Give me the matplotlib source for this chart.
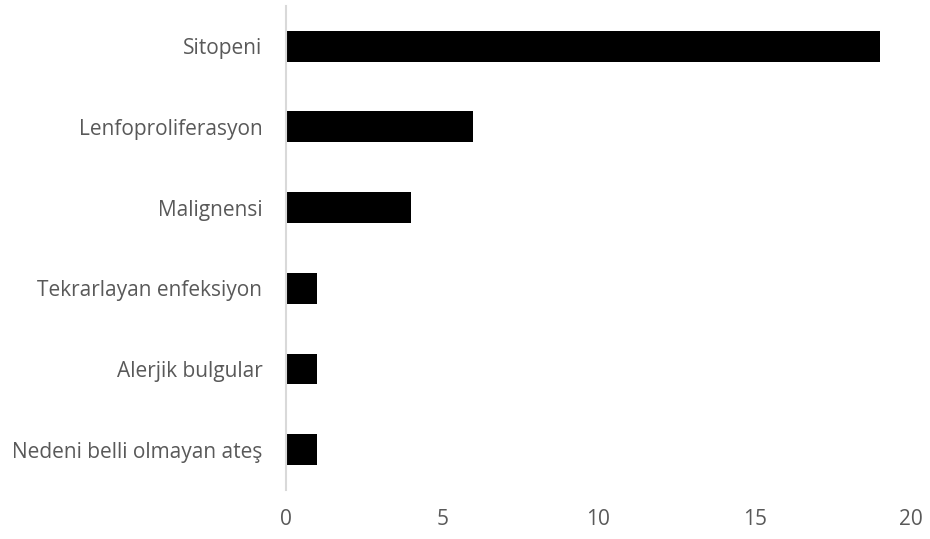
import matplotlib.pyplot as plt

plt.rcParams['font.family'] = ['Open Sans', 'DejaVu Sans']

categories = ['Sitopeni', 'Lenfoproliferasyon', 'Malignensi',
              'Tekrarlayan enfeksiyon', 'Alerjik bulgular', 'Nedeni belli olmayan ateş']
counts = [19, 6, 4, 1, 1, 1]
xticks = [0, 5, 10, 15, 20]

fig = plt.figure(figsize=(9.3, 5.39), dpi=100)
ax = fig.add_axes([0.3075, 0.0909, 0.672, 0.898])

pos = list(range(len(categories)))
ax.barh(pos, counts, height=0.384, color='black')
ax.set_yticks(pos)
ax.set_yticklabels(categories)
ax.set_ylim(len(categories) - 0.5, -0.5)
ax.set_xlim(0, 20)
ax.set_xticks(xticks)

for s in ['top', 'right', 'bottom']:
    ax.spines[s].set_visible(False)
ax.spines['left'].set_color('#d9d9d9')
ax.spines['left'].set_linewidth(1.5)

ax.tick_params(axis='both', length=0, labelsize=15, colors='#595959')
ax.tick_params(axis='y', pad=17)
ax.tick_params(axis='x', pad=14)

fig.savefig('out.png', dpi=100)
